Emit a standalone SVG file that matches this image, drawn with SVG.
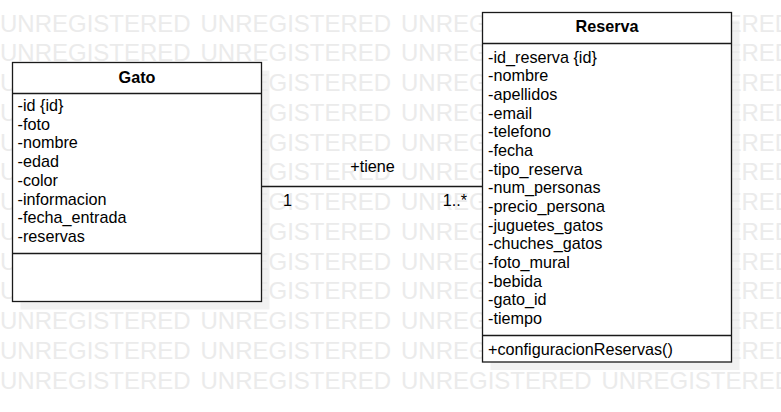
<svg xmlns="http://www.w3.org/2000/svg" width="781" height="412" viewBox="0 0 781 412">
<style>
.wm{font-family:"Liberation Sans",Arial,sans-serif;font-size:24px;fill:#ebebeb}
.box{fill:#fff;stroke:#1a1a1a;stroke-width:1.3}
.sep{stroke:#1a1a1a;stroke-width:1.3;fill:none}
.shadow{fill:#f1f1f1}
.t{font-family:"Liberation Sans",Arial,sans-serif;font-size:16.2px;fill:#000}
.title{font-family:"Liberation Sans",Arial,sans-serif;font-size:16.2px;font-weight:bold;fill:#000;text-anchor:middle}
.edge{stroke:#1a1a1a;stroke-width:1.3;fill:none}
</style>
<rect width="781" height="412" fill="#fff"/>
<g id="shadows">
<rect class="shadow" x="20.5" y="70.5" width="249" height="239"/>
<rect class="shadow" x="490.5" y="20.5" width="249" height="349.5"/>
</g>
<g id="watermark" class="wm">
<text y="31.5"><tspan x="0">UNREGISTERED</tspan><tspan x="200.5">UNREGISTERED</tspan><tspan x="401">UNREGISTERED</tspan><tspan x="601.5">UNREGISTERED</tspan></text>
<text y="61.25"><tspan x="0">UNREGISTERED</tspan><tspan x="200.5">UNREGISTERED</tspan><tspan x="401">UNREGISTERED</tspan><tspan x="601.5">UNREGISTERED</tspan></text>
<text y="91"><tspan x="0">UNREGISTERED</tspan><tspan x="200.5">UNREGISTERED</tspan><tspan x="401">UNREGISTERED</tspan><tspan x="601.5">UNREGISTERED</tspan></text>
<text y="120.75"><tspan x="0">UNREGISTERED</tspan><tspan x="200.5">UNREGISTERED</tspan><tspan x="401">UNREGISTERED</tspan><tspan x="601.5">UNREGISTERED</tspan></text>
<text y="150.5"><tspan x="0">UNREGISTERED</tspan><tspan x="200.5">UNREGISTERED</tspan><tspan x="401">UNREGISTERED</tspan><tspan x="601.5">UNREGISTERED</tspan></text>
<text y="180.25"><tspan x="0">UNREGISTERED</tspan><tspan x="200.5">UNREGISTERED</tspan><tspan x="401">UNREGISTERED</tspan><tspan x="601.5">UNREGISTERED</tspan></text>
<text y="210"><tspan x="0">UNREGISTERED</tspan><tspan x="200.5">UNREGISTERED</tspan><tspan x="401">UNREGISTERED</tspan><tspan x="601.5">UNREGISTERED</tspan></text>
<text y="239.75"><tspan x="0">UNREGISTERED</tspan><tspan x="200.5">UNREGISTERED</tspan><tspan x="401">UNREGISTERED</tspan><tspan x="601.5">UNREGISTERED</tspan></text>
<text y="269.5"><tspan x="0">UNREGISTERED</tspan><tspan x="200.5">UNREGISTERED</tspan><tspan x="401">UNREGISTERED</tspan><tspan x="601.5">UNREGISTERED</tspan></text>
<text y="299.25"><tspan x="0">UNREGISTERED</tspan><tspan x="200.5">UNREGISTERED</tspan><tspan x="401">UNREGISTERED</tspan><tspan x="601.5">UNREGISTERED</tspan></text>
<text y="329"><tspan x="0">UNREGISTERED</tspan><tspan x="200.5">UNREGISTERED</tspan><tspan x="401">UNREGISTERED</tspan><tspan x="601.5">UNREGISTERED</tspan></text>
<text y="358.75"><tspan x="0">UNREGISTERED</tspan><tspan x="200.5">UNREGISTERED</tspan><tspan x="401">UNREGISTERED</tspan><tspan x="601.5">UNREGISTERED</tspan></text>
<text y="388.5"><tspan x="0">UNREGISTERED</tspan><tspan x="200.5">UNREGISTERED</tspan><tspan x="401">UNREGISTERED</tspan><tspan x="601.5">UNREGISTERED</tspan></text>
</g>
<g id="connectors">
<line class="edge" x1="261.5" y1="186.5" x2="482.5" y2="186.5"/>
<text class="t" x="372.5" y="171.7" text-anchor="middle">+tiene</text>
<text class="t" x="283" y="206">1</text>
<text class="t" x="467" y="206" text-anchor="end">1..*</text>
</g>
<g id="gato">
<rect class="box" x="12.5" y="62.5" width="249" height="239"/>
<line class="sep" x1="12.5" y1="93.5" x2="261.5" y2="93.5"/>
<line class="sep" x1="12.5" y1="253.5" x2="261.5" y2="253.5"/>
<text class="title" x="137" y="82.7">Gato</text>
<text class="t" x="17.5" y="111">-id {id}</text>
<text class="t" x="17.5" y="129.7">-foto</text>
<text class="t" x="17.5" y="148.4">-nombre</text>
<text class="t" x="17.5" y="167.1">-edad</text>
<text class="t" x="17.5" y="185.8">-color</text>
<text class="t" x="17.5" y="204.5">-informacion</text>
<text class="t" x="17.5" y="223.2">-fecha_entrada</text>
<text class="t" x="17.5" y="241.9">-reservas</text>
</g>
<g id="reserva">
<rect class="box" x="482.5" y="12.5" width="249" height="349.5"/>
<line class="sep" x1="482.5" y1="43.5" x2="731.5" y2="43.5"/>
<line class="sep" x1="482.5" y1="335.5" x2="731.5" y2="335.5"/>
<text class="title" x="607" y="32.3">Reserva</text>
<text class="t" x="488" y="62.8">-id_reserva {id}</text>
<text class="t" x="488" y="81.45">-nombre</text>
<text class="t" x="488" y="100.1">-apellidos</text>
<text class="t" x="488" y="118.75">-email</text>
<text class="t" x="488" y="137.4">-telefono</text>
<text class="t" x="488" y="156.05">-fecha</text>
<text class="t" x="488" y="174.7">-tipo_reserva</text>
<text class="t" x="488" y="193.35">-num_personas</text>
<text class="t" x="488" y="212">-precio_persona</text>
<text class="t" x="488" y="230.65">-juguetes_gatos</text>
<text class="t" x="488" y="249.3">-chuches_gatos</text>
<text class="t" x="488" y="267.95">-foto_mural</text>
<text class="t" x="488" y="286.6">-bebida</text>
<text class="t" x="488" y="305.25">-gato_id</text>
<text class="t" x="488" y="323.9">-tiempo</text>
<text class="t" x="488" y="355">+configuracionReservas()</text>
</g>
</svg>
